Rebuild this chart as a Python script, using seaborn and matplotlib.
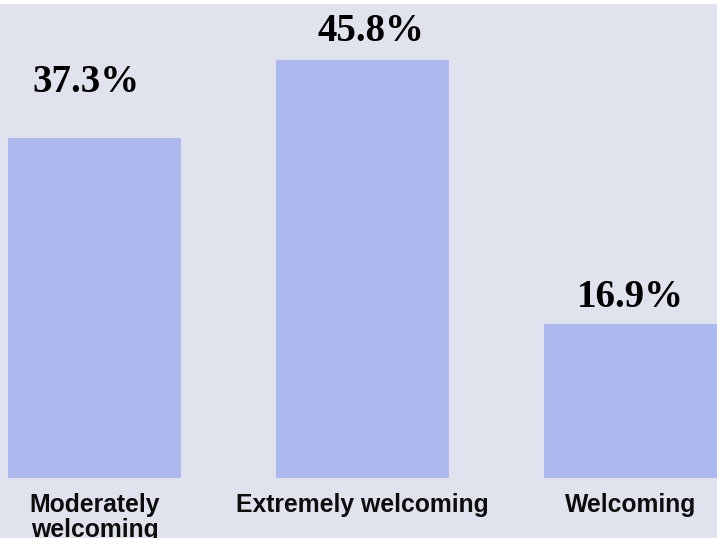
import matplotlib
matplotlib.use("Agg")
import matplotlib.pyplot as plt
from matplotlib.patches import Rectangle
import seaborn as sns
import pandas as pd

# Survey responses: how welcoming the community feels
categories = ["Moderately\nwelcoming", "Extremely welcoming", "Welcoming"]
shares = [37.3, 45.8, 16.9]
value_labels = ["37.3%", "45.8%", "16.9%"]

BG = "#e0e3ed"
BAR = "#adb8ee"

sns.set_theme(style="white", rc={"axes.facecolor": BG, "figure.facecolor": BG})
plt.rcParams["font.family"] = ["Liberation Sans", "DejaVu Sans"]

fig = plt.figure(figsize=(7.17, 5.38), dpi=100)
ax = fig.add_axes([0, 60 / 538, 1, 474 / 538])

df = pd.DataFrame({"category": categories, "share": shares})
sns.barplot(data=df, x="category", y="share", color=BAR, saturation=1,
            width=0.6455, linewidth=0, edgecolor=BAR, ax=ax)

ax.set_xlim(-0.3526, 2.3228)
ax.set_ylim(0, 51.97)
ax.set_xlabel("")
ax.set_ylabel("")
ax.set_yticks([])
for s in ax.spines.values():
    s.set_visible(False)
ax.tick_params(axis="x", length=0, pad=11)
for t in ax.get_xticklabels():
    t.set_fontsize(17.8)
    t.set_fontweight("bold")
    t.set_color("#0d0d0d")
    t.set_linespacing(1.05)
    t.set_verticalalignment("top")

# value labels above each bar (offsets in pixels)
label_offsets = [(-8, 55), (8, 29), (0, 26)]
for i, (v, txt) in enumerate(zip(shares, value_labels)):
    dx, dy = label_offsets[i]
    ax.annotate(txt, xy=(i, v), xytext=(dx * 0.72, dy * 0.72),
                textcoords="offset points", ha="center", va="center",
                fontsize=28, fontweight="bold", family="Liberation Serif",
                color="black", annotation_clip=False)

# thin white band along the top edge
fig.patches.append(Rectangle((0, 1 - 4 / 538), 1, 4 / 538, transform=fig.transFigure,
                             facecolor="white", edgecolor="none", zorder=10))

fig.savefig("out.png", dpi=100, facecolor=BG)
